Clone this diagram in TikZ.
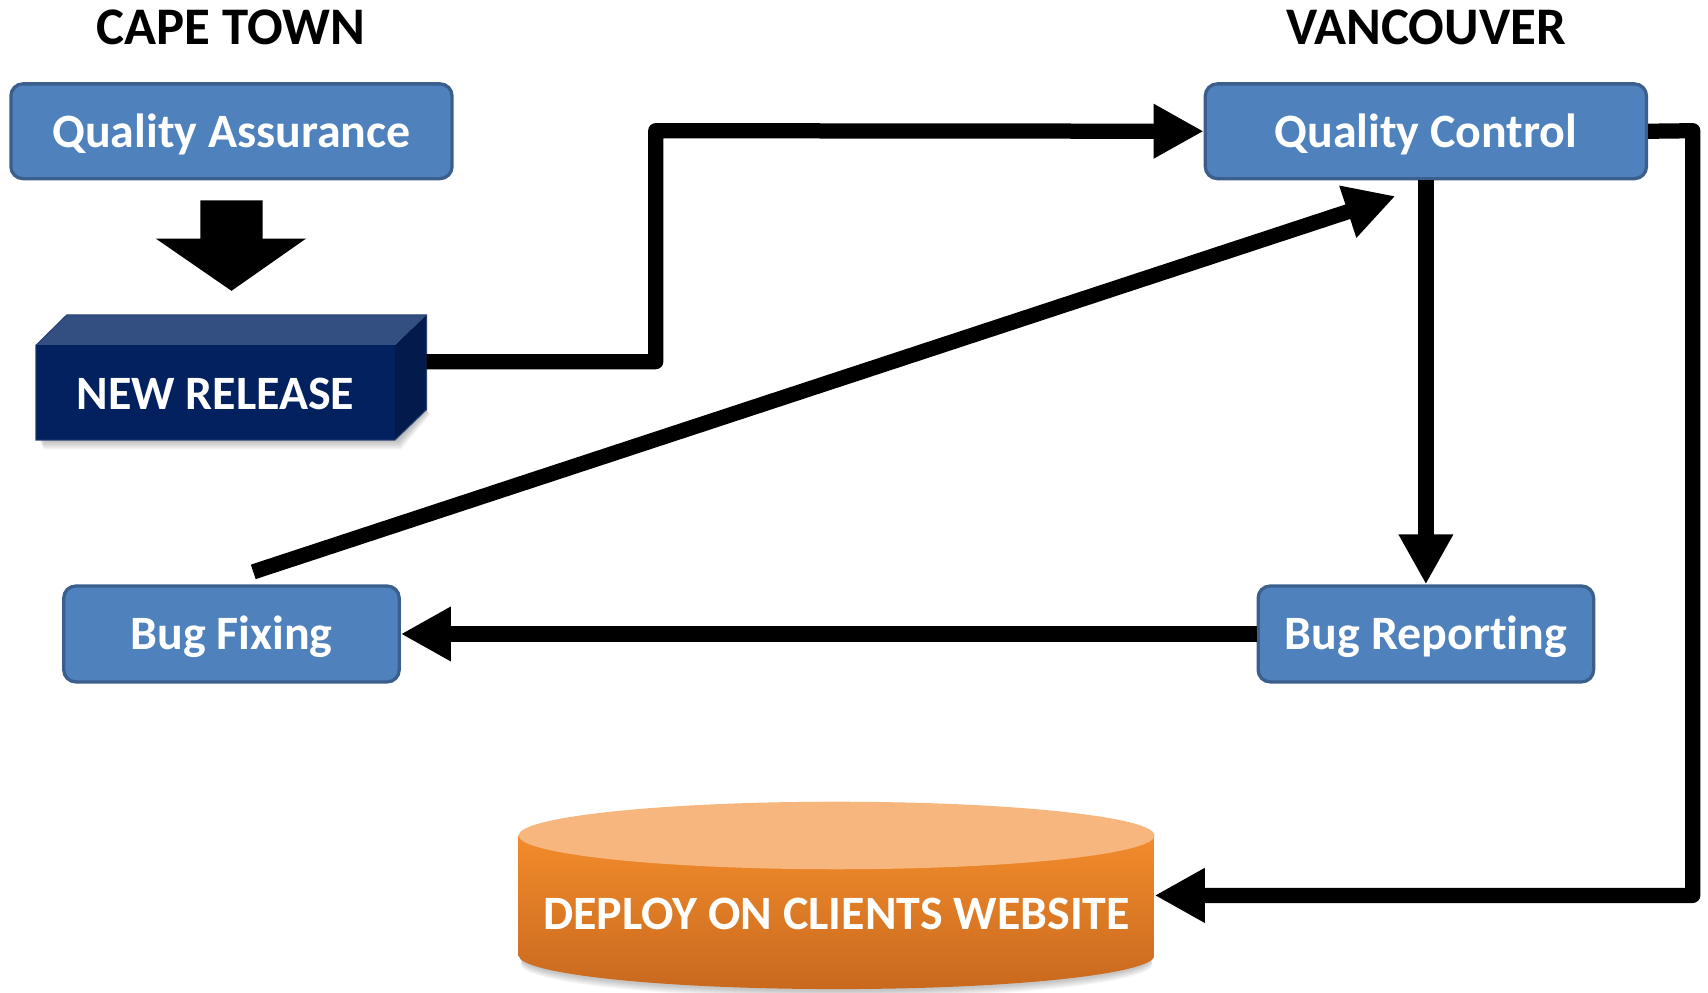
\documentclass[tikz,border=0pt]{standalone}
\usepackage{fontspec}
\setmainfont{Carlito}[Ligatures=NoCommon]
\usetikzlibrary{arrows.meta}
\definecolor{boxblue}{HTML}{4F81BD}
\definecolor{boxedge}{HTML}{3A5F8D}
\definecolor{navyfront}{HTML}{03215E}
\definecolor{navytop}{HTML}{334E80}
\definecolor{navyside}{HTML}{021A4C}
\definecolor{cyltop}{HTML}{F6B67D}
\definecolor{cylA}{HTML}{F28B2B}
\definecolor{cylB}{HTML}{C8691F}
\tikzset{
  boxfont/.style={font=\fontsize{44}{50}\selectfont\bfseries},
  bluebox/.style={rectangle, rounded corners=11pt, fill=boxblue, draw=boxedge, line width=3pt,
    inner sep=0pt},
  boxtext/.style={text=white, boxfont, inner sep=0pt},
  title/.style={font=\fontsize{48.5}{56}\selectfont\bfseries, text=black, inner sep=0pt},
  conn/.style={line width=14pt, draw=black, line join=round, -{Triangle[length=46pt,width=47pt]}},
}
\begin{document}
\begin{tikzpicture}[x=1pt,y=-1pt]
\useasboundingbox (0,0) rectangle (1568,911.6);

% titles
\node[title] (tct) at (212,25) {CAPE TOWN};
\node[title] (tvc) at (1309,25) {VANCOUVER};

% blue boxes
\node[bluebox, minimum width=405pt, minimum height=87pt] (qa) at (212.5,120.5) {};
\node[boxtext] (qat) at (212.5,123) {Quality Assurance};
\node[bluebox, minimum width=405pt, minimum height=87pt] (qc) at (1309,120.5) {};
\node[boxtext] (qct) at (1309,123) {Quality Control};
\node[bluebox, minimum width=308pt, minimum height=88pt] (bf) at (212.5,582) {};
\node[boxtext] (bft) at (212.5,585) {Bug Fixing};
\node[bluebox, minimum width=308pt, minimum height=88pt] (br) at (1309,582) {};
\node[boxtext] (brt) at (1309,585) {Bug Reporting};

% block arrow QA -> NEW RELEASE
\fill[black] (184,184) -- (241,184) -- (241,219) -- (281,219) -- (212.5,267) -- (143,219) -- (184,219) -- cycle;

% NEW RELEASE 3D box: soft shadow
\foreach \d in {1,2,...,8}{
  \fill[black, opacity=0.035] (36+\d*0.5,404) -- (362.5,404) -- (391.5,376) -- (391.5+\d*0.4,376+\d*0.6)
     -- (365+\d*0.4,404+\d*1.1) -- (36+\d*0.5,404+\d*1.1) -- cycle;
}
\fill[navytop] (33,317) -- (61.5,289) -- (391.5,289) -- (362.5,317) -- cycle;
\fill[navyside] (362.5,317) -- (391.5,289) -- (391.5,376) -- (362.5,404) -- cycle;
\node[rectangle, fill=navyfront, minimum width=329.5pt, minimum height=87pt, inner sep=0pt] (nr) at (197.75,360.5) {};
\node[boxtext] (nrt) at (197.75,362) {NEW RELEASE};
\draw[navytop!70!navyfront, line width=1pt] (33,317) -- (61.5,289) -- (391.5,289) -- (391.5,376) -- (362.5,404) -- (33,404) -- cycle;
\coordinate (nrR) at (391.5,332);

% cylinder: soft shadow
\foreach \d in {1,2,...,8}{
  \fill[black, opacity=0.03] (768,878+\d*0.9) ellipse [x radius=290, y radius=31];
}
\shade[top color=cylA, bottom color=cylB] (476,767) -- (476,877)
  arc[start angle=180, end angle=0, x radius=292, y radius=31] -- (1060,767) -- cycle;
\fill[cyltop] (768,767) ellipse [x radius=292, y radius=31];
\node[boxtext] (dep) at (768,839) {DEPLOY ON CLIENTS WEBSITE};
\coordinate (depE) at (1060,822);

% connectors
\draw[conn] (nrR) -- (602,332) -- (602,120) -- (qc.west);
\coordinate (bfS) at (232.5,525);
\coordinate (qcT) at (1281,180);
\draw[conn] (bfS) -- (qcT);
\draw[conn] (qc.south) -- (br.north);
\draw[conn] (br.west) -- (bf.east);
\draw[conn] (qc.east) -- (1554,120) -- (1554,822) -- (depE);
\end{tikzpicture}
\end{document}
